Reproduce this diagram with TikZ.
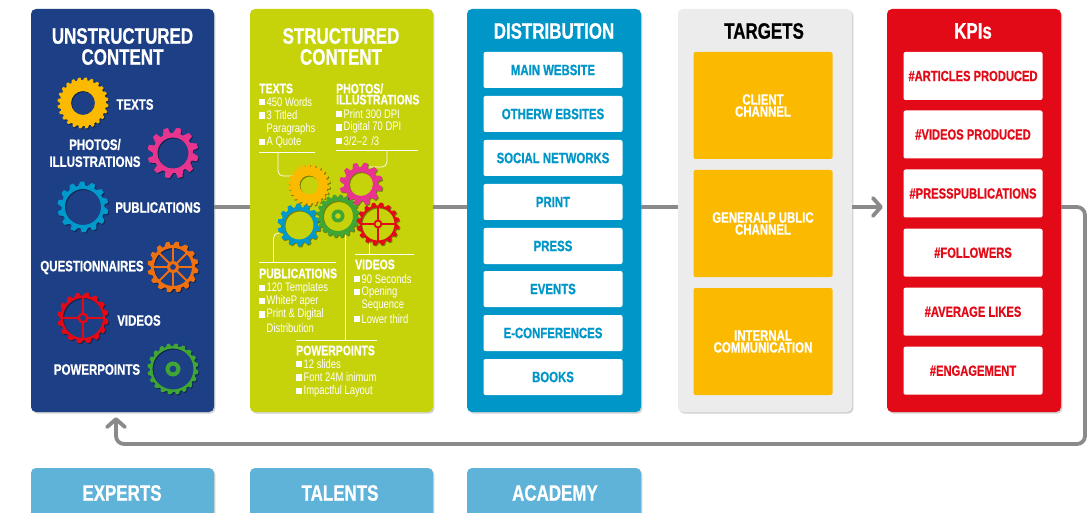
\documentclass[tikz,border=0pt]{standalone}
\usepackage{fontspec}
\setmainfont{Liberation Sans}[FakeStretch=0.76,BoldFeatures={FakeBold=0.7}]
\usetikzlibrary{arrows.meta,shadows}
\definecolor{navy}{HTML}{1C3F85}
\definecolor{lime}{HTML}{C6D30A}
\definecolor{cyanp}{HTML}{0096C7}
\definecolor{greyp}{HTML}{ECECEC}
\definecolor{redp}{HTML}{E30A17}
\definecolor{skyp}{HTML}{5FB3D9}
\definecolor{amber}{HTML}{FBBA00}
\definecolor{pinkg}{HTML}{E6348F}
\definecolor{orangeg}{HTML}{EF7010}
\definecolor{greeng}{HTML}{3FA535}
\definecolor{blueg}{HTML}{0099CC}
\definecolor{linegrey}{HTML}{8A8A8A}
\tikzset{
  panel/.style={rectangle,rounded corners=5pt,inner sep=0pt,minimum width=#1,
    drop shadow={shadow xshift=1.4pt,shadow yshift=-1.6pt,opacity=1,fill=black!18}},
  panel/.default=183pt,
  item/.style={rectangle,rounded corners=2pt,inner sep=0pt,minimum width=139pt,align=center,font=\fontsize{15}{12}\selectfont\bfseries},
  kpiitem/.style={item,fill=white,text=redp,minimum height=48pt,font=\fontsize{14.7}{12}\selectfont\bfseries},
  title/.style={inner sep=0pt,text=white,font=\fontsize{22.3}{21}\selectfont\bfseries,align=center},
  glabel/.style={inner sep=0pt,text=white,font=\fontsize{15.1}{17}\selectfont\bfseries,align=center},
  head/.style={inner sep=0pt,anchor=west,text=white,font=\fontsize{13.8}{11}\selectfont\bfseries,align=left},
  body/.style={inner sep=0pt,anchor=west,text=white,font=\fontsize{12.4}{12}\selectfont},
  bul/.style={rectangle,fill=white,inner sep=0pt,minimum size=6.2pt},
  flow/.style={draw=linegrey,line width=3.8pt},
  thin/.style={draw=white,line width=.7pt},
  rulew/.style={draw=white,line width=1pt},
}
% \gearshape{cx}{cy}{outer R}{root R}{teeth}{hole r}{colour}
\newcommand\gearshape[7]{%
  \begin{scope}[shift={(#1,#2)}]
    \pgfmathsetmacro\gp{360/#5}
    \foreach \gs in {1,0}{
      \begin{scope}[shift={(\gs,\gs)}]
      \ifnum\gs=1\relax\fill[black,opacity=.4,even odd rule]\else\fill[#7,even odd rule]\fi
        (0:#4)
        \foreach \gi in {1,...,#5}{
          -- ({(\gi-1)*\gp+.27*\gp}:#3)
          -- ({(\gi-1)*\gp+.5*\gp-.12*\gp}:#3)
          -- ({(\gi-1)*\gp+.5*\gp+.12*\gp}:#3)
          -- ({(\gi-1)*\gp+.5*\gp+.24*\gp}:#4)
          -- ({\gi*\gp}:#4)
        } -- cycle
        (0,0) circle[radius=#6];
      \end{scope}
    }
  \end{scope}}
% \gearspokes{cx}{cy}{angles}{from r}{to r}{colour}
\newcommand\gearspokes[6]{%
  \begin{scope}[shift={(#1,#2)}]
    \foreach \ga in {#3}{\draw[#6,line width=1.8pt] (\ga:#4) -- (\ga:#5);}
  \end{scope}}
\newcommand\gearhub[5]{% cx cy r hole colour
  \begin{scope}[shift={(#1,#2)}]
    \fill[#5,even odd rule] (0,0) circle[radius=#3] (0,0) circle[radius=#4];
  \end{scope}}
\begin{document}
\begin{tikzpicture}[x=1pt,y=-1pt]
\clip (0,0) rectangle (1087,513);
\fill[white] (0,0) rectangle (1087,513);
\coordinate (flowy) at (0,207);
\coordinate (loopr) at (1085,207);
\coordinate (loopb) at (1085,444);
\coordinate (loopl) at (116,444);

% panels
\node[panel=183pt,fill=navy,minimum height=403pt] (unstructured) at (122.5,210.5) {};
\node[panel=183pt,fill=lime,minimum height=403pt] (structured) at (341.5,210.5) {};
\node[panel=174pt,fill=cyanp,minimum height=403pt] (distribution) at (554,210.5) {};
\node[panel=174pt,fill=greyp,minimum height=403pt] (targets) at (765,210.5) {};
\node[panel=174pt,fill=redp,minimum height=403pt] (kpis) at (974,210.5) {};
\node[panel=183pt,fill=skyp,minimum height=70pt] (experts) at (122.5,503) {};
\node[panel=183pt,fill=skyp,minimum height=70pt] (talents) at (341.5,503) {};
\node[panel=174pt,fill=skyp,minimum height=70pt] (academy) at (554,503) {};

% connectors
\draw[flow] (unstructured.east |- flowy) -- (structured.west |- flowy);
\draw[flow] (structured.east |- flowy) -- (distribution.west |- flowy);
\draw[flow] (distribution.east |- flowy) -- (targets.west |- flowy);
\draw[flow,-{Straight Barb[round,length=8pt,width=18pt,line width=3.8pt]}] (targets.east |- flowy) -- ([xshift=-4pt]kpis.west |- flowy);
\draw[flow,rounded corners=8pt,-{Straight Barb[round,length=8pt,width=18pt,line width=3.8pt]}] (kpis.east |- flowy) -- (loopr) -- (loopb) -- (loopl) -- ([yshift=-5pt]unstructured.south -| loopl);

% titles
\node[title] (t1) at (122.5,46.5) {UNSTRUCTURED\\CONTENT};
\node[title] (t2) at (341,46.5) {STRUCTURED\\CONTENT};
\node[title] (t3) at (554,31) {DISTRIBUTION};
\node[title,text=black] (t4) at (764,31) {TARGETS};
\node[title] (t5) at (973,31) {KPIs};
\node[title] (t6) at (122,493) {EXPERTS};
\node[title] (t7) at (340,493) {TALENTS};
\node[title] (t8) at (555,493) {ACADEMY};

% unstructured gears
\gearshape{83}{103}{25.5}{23}{24}{12}{amber}
\gearshape{173}{153}{25.5}{20}{12}{15.5}{pinkg}
\gearshape{83}{207}{25.5}{21.5}{14}{18}{blueg}
\gearshape{173}{267}{25.5}{22}{16}{19}{orangeg}
\gearspokes{173}{267}{0,45,90,135,180,225,270,315}{5}{20}{orangeg}
\gearhub{173}{267}{6}{3}{orangeg}
\gearshape{83}{318}{25.5}{22.5}{16}{20}{redp}
\gearspokes{83}{318}{0,90,180,270}{5}{20}{redp}
\gearhub{83}{318}{5.5}{3}{redp}
\gearshape{173}{369}{25.5}{23}{20}{20.5}{greeng}
\gearhub{173}{369}{7.5}{3.5}{greeng}

\node[glabel] (l1) at (135,104.5) {TEXTS};
\node[glabel] (l2) at (95,153) {PHOTOS/\\ILLUSTRATIONS};
\node[glabel] (l3) at (158,207.5) {PUBLICATIONS};
\node[glabel] (l4) at (92,267.5) {QUESTIONNAIRES};
\node[glabel] (l5) at (139,320.5) {VIDEOS};
\node[glabel] (l6) at (97,369.5) {POWERPOINTS};

% structured connectors
\coordinate (c1a) at (259,153); \coordinate (c1b) at (315,153);
\coordinate (c2a) at (336,151); \coordinate (c2b) at (418,151);
\coordinate (c3a) at (259,262); \coordinate (c3b) at (336,262);
\coordinate (c4a) at (355,254); \coordinate (c4b) at (414,254);
\coordinate (c5a) at (296,340); \coordinate (c5b) at (377,340);
\coordinate (s1) at (278,153); \coordinate (e1) at (293,176);
\coordinate (s2) at (387,151); \coordinate (e2) at (368,167);
\coordinate (s3) at (273.5,262); \coordinate (e3) at (281,233);
\coordinate (s4) at (369.5,254); \coordinate (e4) at (369.5,240);
\coordinate (s5) at (345.5,340); \coordinate (e5) at (345.5,232);
\draw[rulew] (c1a) -- (c1b);
\draw[rulew] (c2a) -- (c2b);
\draw[rulew] (c3a) -- (c3b);
\draw[rulew] (c4a) -- (c4b);
\draw[rulew] (c5a) -- (c5b);
\draw[thin,rounded corners=5pt] (s1) |- (e1);
\draw[thin,rounded corners=5pt] (s2) |- (e2);
\draw[thin,rounded corners=5pt] (s3) |- (e3);
\draw[thin] (s4) -- (e4);
\draw[thin] (s5) -- (e5);

% structured gears
\gearshape{309}{185}{21}{18.5}{22}{9.5}{amber}
\gearshape{361}{184}{21.5}{17}{12}{12}{pinkg}
\gearshape{299}{225}{21.5}{18}{14}{14.5}{blueg}
\gearshape{338}{216}{21.5}{19}{20}{15}{greeng}
\gearhub{338}{216}{6.5}{3}{greeng}
\gearshape{378}{224}{21.5}{18.5}{16}{16.5}{redp}
\gearspokes{378}{224}{0,90,180,270}{4}{17}{redp}
\gearhub{378}{224}{4.5}{2.5}{redp}

% structured text
\node[head] (h1) at (259,88.5) {TEXTS};
\node[bul] (b11) at (262,102) {}; \node[body] (x11) at (266.5,102) {450 Words};
\node[bul] (b12) at (262,115.5) {}; \node[body] (x12) at (266.5,115.5) {3 Titled};
\node[body] (x13) at (266.5,129) {Paragraphs};
\node[bul] (b14) at (262,142) {}; \node[body] (x14) at (266.5,142) {A Quote};

\node[head] (h2) at (336,94) {PHOTOS/\\ILLUSTRATIONS};
\node[bul] (b21) at (339,114) {}; \node[body] (x21) at (343.5,114) {Print 300 DPI};
\node[bul] (b22) at (339,127.5) {}; \node[body] (x22) at (343.5,127.5) {Digital 70 DPI};
\node[bul] (b23) at (339,141) {}; \node[body] (x23) at (343.5,141) {3/2–2\hspace{4pt}/3};

\node[head] (h3) at (259,273.5) {PUBLICATIONS};
\node[bul] (b31) at (262,288) {}; \node[body] (x31) at (266.5,288) {120 Templates};
\node[bul] (b32) at (262,301) {}; \node[body] (x32) at (266.5,301) {WhiteP aper};
\node[bul] (b33) at (262,314.5) {}; \node[body] (x33) at (266.5,314.5) {Print \& Digital};
\node[body] (x34) at (266.5,328) {Distribution};

\node[head] (h4) at (355,264.5) {VIDEOS};
\node[bul] (b41) at (357,279) {}; \node[body] (x41) at (361.5,279) {90 Seconds};
\node[bul] (b42) at (357,292) {}; \node[body] (x42) at (361.5,292) {Opening};
\node[body] (x43) at (361.5,305) {Sequence};
\node[bul] (b44) at (357,319) {}; \node[body] (x44) at (361.5,319) {Lower third};

\node[head] (h5) at (296,350.5) {POWERPOINTS};
\node[bul] (b51) at (299,364) {}; \node[body] (x51) at (303.5,364) {12 slides};
\node[bul] (b52) at (299,377.5) {}; \node[body] (x52) at (303.5,377.5) {Font 24M inimum};
\node[bul] (b53) at (299,391) {}; \node[body] (x53) at (303.5,391) {Impactful Layout};

% distribution items
\foreach \nm/\yy/\tx in {d1/70/MAIN WEBSITE,d2/114/OTHERW EBSITES,d3/158/SOCIAL NETWORKS,d4/202/PRINT,d5/246/PRESS,d6/289/EVENTS,d7/333/E-CONFERENCES,d8/377/BOOKS}
  \node[item,fill=white,text=cyanp,minimum height=36pt] (\nm) at (553,\yy) {\tx};

% targets items
\node[item,fill=amber,text=white,minimum height=107pt] (g1) at (763,105.5) {CLIENT\\CHANNEL};
\node[item,fill=amber,text=white,minimum height=107pt] (g2) at (763,223.5) {GENERALP UBLIC\\CHANNEL};
\node[item,fill=amber,text=white,minimum height=107pt] (g3) at (763,341.5) {INTERNAL\\COMMUNICATION};

% KPI items
\node[kpiitem] (k1) at (973,76) {\#ARTICLES PRODUCED};
\node[kpiitem] (k2) at (973,134.5) {\#VIDEOS PRODUCED};
\node[kpiitem] (k3) at (973,193.5) {\#PRESSPUBLICATIONS};
\node[kpiitem] (k4) at (973,252.7) {\#FOLLOWERS};
\node[kpiitem] (k5) at (973,311.7) {\#AVERAGE LIKES};
\node[kpiitem] (k6) at (973,370.7) {\#ENGAGEMENT};
\end{tikzpicture}
\end{document}
